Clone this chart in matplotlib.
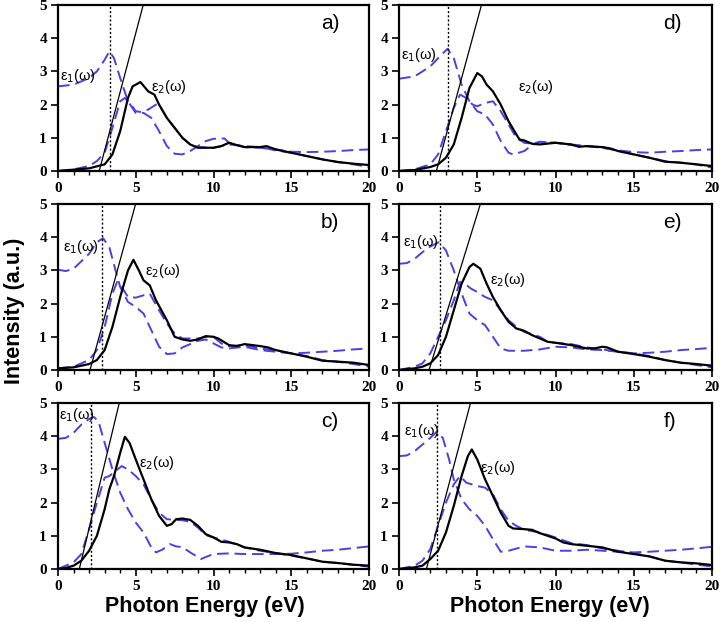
import matplotlib.pyplot as plt
from matplotlib.ticker import MultipleLocator

# colours
BLUE = '#4b3fe6'

panel_names = ['a)', 'b)', 'c)', 'd)', 'e)', 'f)']

# --- panel a ---
a_eps2_x = [0, 2, 3, 3.5, 4, 4.5, 4.8, 5, 5.3, 5.8, 6.2, 6.5, 7, 7.5, 8, 8.5, 9, 10, 10.5, 11, 11.5, 12, 13, 13.4, 14, 15, 16, 17, 18, 19, 20]
a_eps2_y = [0, 0.08, 0.2, 0.5, 1.2, 2.2, 2.55, 2.6, 2.68, 2.4, 2.3, 2.0, 1.6, 1.3, 1.0, 0.8, 0.7, 0.7, 0.75, 0.85, 0.78, 0.72, 0.72, 0.75, 0.65, 0.55, 0.45, 0.35, 0.27, 0.22, 0.18]
a_eps1_x = [0, 1, 2, 2.5, 3, 3.3, 3.6, 4, 4.5, 5, 5.5, 6, 6.5, 7, 7.5, 8, 8.5, 9, 9.5, 10, 10.7, 11, 12, 13, 14, 15, 16, 17, 18, 19, 20]
a_eps1_y = [2.55, 2.6, 2.8, 3.0, 3.35, 3.6, 3.4, 2.8, 2.1, 1.75, 1.75, 1.6, 1.2, 0.75, 0.52, 0.5, 0.6, 0.75, 0.9, 0.97, 0.98, 0.85, 0.72, 0.7, 0.65, 0.58, 0.57, 0.58, 0.6, 0.63, 0.65]
a_alt_x = [0, 1, 2, 2.5, 3, 3.5, 4, 4.3, 4.7, 5, 5.3, 5.8, 6.3, 6.5, 7, 7.5, 8, 8.5, 9, 10, 10.5, 11, 12, 13, 14, 15, 16, 17, 18, 19, 20]
a_alt_y = [0, 0.05, 0.15, 0.3, 0.55, 1.3, 2.1, 2.2, 2.0, 1.8, 1.78, 1.85, 2.0, 2.0, 1.6, 1.3, 1.0, 0.8, 0.72, 0.7, 0.75, 0.8, 0.75, 0.72, 0.62, 0.55, 0.45, 0.35, 0.27, 0.2, 0.12]

# --- panel b ---
b_eps2_x = [0, 1, 2, 2.5, 3, 3.5, 4, 4.5, 4.85, 5.2, 5.5, 5.9, 6.3, 7, 7.5, 8, 8.5, 9, 9.5, 10, 10.3, 11, 11.5, 12, 13, 13.5, 14, 15, 16, 17, 18, 19, 20]
b_eps2_y = [0.05, 0.08, 0.18, 0.3, 0.6, 1.3, 2.2, 3.0, 3.32, 3.0, 2.7, 2.55, 2.1, 1.5, 1.0, 0.92, 0.88, 0.92, 1.02, 1.0, 0.95, 0.75, 0.72, 0.78, 0.72, 0.68, 0.6, 0.5, 0.4, 0.28, 0.25, 0.22, 0.15]
b_eps1_x = [0, 0.5, 1, 2, 2.5, 2.9, 3.3, 3.7, 4, 4.5, 5, 5.5, 6, 6.5, 7, 7.5, 8, 9, 9.5, 10, 10.5, 11, 12, 13, 14, 15, 16, 17, 18, 19, 20]
b_eps1_y = [3.02, 2.98, 3.05, 3.5, 3.85, 3.97, 3.7, 3.0, 2.5, 2.05, 1.9, 1.7, 1.2, 0.7, 0.48, 0.5, 0.68, 0.88, 0.92, 0.8, 0.68, 0.65, 0.7, 0.6, 0.55, 0.5, 0.52, 0.55, 0.58, 0.62, 0.65]
b_alt_x = [0, 1, 2, 2.5, 3, 3.5, 3.8, 4.1, 4.5, 5, 5.5, 5.9, 6.5, 7, 7.5, 8, 9, 9.5, 10, 10.5, 11, 12, 13, 14, 15, 16, 17, 18, 19, 20]
b_alt_y = [0.05, 0.1, 0.3, 0.6, 1.3, 2.3, 2.65, 2.5, 2.2, 2.18, 2.25, 2.3, 1.8, 1.4, 1.1, 0.95, 0.95, 1.0, 1.0, 0.8, 0.72, 0.75, 0.65, 0.58, 0.5, 0.42, 0.3, 0.25, 0.18, 0.1]

# --- panel c ---
c_eps2_x = [0, 0.5, 1, 1.5, 2, 2.5, 3, 3.3, 3.6, 4, 4.3, 4.6, 5, 5.5, 6, 6.5, 7, 7.3, 7.6, 8, 8.5, 9, 9.5, 10, 10.5, 11, 11.5, 12, 13, 14, 15, 16, 17, 18, 19, 20]
c_eps2_y = [0, 0.03, 0.1, 0.25, 0.55, 1.0, 1.8, 2.4, 2.8, 3.5, 3.98, 3.8, 3.3, 2.7, 2.1, 1.6, 1.3, 1.35, 1.5, 1.52, 1.48, 1.3, 1.05, 0.95, 0.82, 0.8, 0.75, 0.65, 0.58, 0.48, 0.42, 0.32, 0.22, 0.18, 0.13, 0.1]
c_eps1_x = [0, 0.5, 1, 1.5, 2, 2.3, 2.6, 3, 3.5, 4, 4.5, 5, 5.5, 6, 6.3, 6.7, 7.2, 7.6, 8, 8.5, 9.2, 9.6, 10, 11, 12, 13, 14, 15, 16, 17, 18, 19, 20]
c_eps1_y = [3.92, 3.95, 4.1, 4.35, 4.52, 4.58, 4.45, 3.8, 3.0, 2.3, 1.8, 1.4, 1.1, 0.65, 0.5, 0.58, 0.75, 0.68, 0.66, 0.5, 0.3, 0.38, 0.45, 0.47, 0.45, 0.45, 0.45, 0.46, 0.5, 0.55, 0.58, 0.63, 0.68]
c_alt_x = [0, 1, 1.5, 2, 2.5, 3, 3.3, 3.7, 4.1, 4.5, 5, 5.5, 6, 6.5, 7, 7.5, 8, 8.5, 9, 9.5, 10, 11, 12, 13, 14, 15, 16, 17, 18, 19, 20]
c_alt_y = [0, 0.2, 0.45, 1.2, 2.0, 2.75, 2.8, 2.95, 3.1, 3.0, 2.8, 2.55, 2.1, 1.7, 1.5, 1.48, 1.47, 1.42, 1.25, 1.02, 0.95, 0.82, 0.65, 0.55, 0.48, 0.4, 0.32, 0.22, 0.18, 0.12, 0.07]

# --- panel d ---
d_eps2_x = [0, 1, 2, 2.5, 3, 3.5, 4, 4.5, 5, 5.3, 5.6, 6, 6.5, 7, 7.5, 7.7, 8, 8.5, 9, 10, 11, 11.5, 12, 13, 13.5, 14, 15, 16, 17, 18, 19, 20]
d_eps2_y = [0, 0.03, 0.12, 0.2, 0.4, 0.8, 1.6, 2.5, 2.95, 2.85, 2.6, 2.4, 2.0, 1.5, 1.1, 0.95, 0.92, 0.82, 0.8, 0.85, 0.8, 0.73, 0.75, 0.72, 0.68, 0.6, 0.5, 0.4, 0.28, 0.25, 0.2, 0.15]
d_eps1_x = [0, 1, 2, 2.5, 3.1, 3.5, 4, 4.5, 5, 5.5, 6, 6.5, 7, 7.3, 8, 8.5, 9, 10, 11, 12, 13, 14, 15, 16, 17, 18, 19, 20]
d_eps1_y = [2.78, 2.85, 3.15, 3.4, 3.68, 3.4, 2.6, 2.1, 1.8, 1.7, 1.4, 0.9, 0.55, 0.5, 0.6, 0.78, 0.88, 0.85, 0.78, 0.75, 0.7, 0.62, 0.57, 0.55, 0.58, 0.6, 0.63, 0.65]
d_alt_x = [0, 1, 2, 2.5, 3, 3.5, 3.9, 4.3, 4.7, 5, 5.5, 6, 6.5, 7, 7.5, 8, 8.5, 9, 10, 11, 12, 13, 14, 15, 16, 17, 18, 19, 20]
d_alt_y = [0, 0.05, 0.2, 0.5, 1.2, 1.9, 2.3, 2.2, 2.0, 1.95, 2.05, 2.1, 1.8, 1.4, 1.0, 0.85, 0.82, 0.88, 0.85, 0.8, 0.75, 0.7, 0.62, 0.5, 0.4, 0.3, 0.25, 0.2, 0.1]

# --- panel e ---
e_eps2_x = [0, 1, 1.5, 2, 2.5, 3, 3.5, 4, 4.5, 4.75, 5.2, 5.6, 6, 6.5, 7, 7.5, 8, 8.5, 9, 9.5, 10, 11, 12, 12.5, 13, 13.3, 14, 15, 16, 17, 18, 19, 20]
e_eps2_y = [0, 0.05, 0.1, 0.2, 0.45, 1.0, 1.8, 2.6, 3.1, 3.2, 3.05, 2.6, 2.2, 1.8, 1.45, 1.25, 1.18, 1.05, 0.95, 0.85, 0.82, 0.75, 0.65, 0.65, 0.7, 0.68, 0.55, 0.48, 0.4, 0.3, 0.22, 0.18, 0.13]
e_eps1_x = [0, 0.5, 1, 1.5, 2, 2.55, 3, 3.5, 4, 4.5, 5, 5.5, 6, 6.5, 7, 8, 9, 10, 11, 12, 13, 14, 15, 16, 17, 18, 19, 20]
e_eps1_y = [3.2, 3.22, 3.35, 3.55, 3.72, 3.85, 3.6, 3.0, 2.3, 1.7, 1.5, 1.35, 1.0, 0.65, 0.58, 0.58, 0.62, 0.7, 0.68, 0.62, 0.6, 0.55, 0.5, 0.52, 0.55, 0.6, 0.63, 0.67]
e_alt_x = [0, 1, 1.5, 2, 2.5, 3, 3.5, 3.9, 4.2, 4.6, 5, 5.5, 6, 6.5, 7, 7.5, 8, 9, 9.5, 10, 11, 12, 13, 14, 15, 16, 17, 18, 19, 20]
e_alt_y = [0, 0.1, 0.2, 0.5, 1.0, 1.5, 2.1, 2.65, 2.6, 2.45, 2.35, 2.2, 2.1, 1.8, 1.5, 1.3, 1.15, 1.0, 0.85, 0.82, 0.78, 0.68, 0.62, 0.55, 0.5, 0.42, 0.3, 0.22, 0.15, 0.08]

# --- panel f ---
f_eps2_x = [0, 1, 1.5, 2, 2.5, 3, 3.5, 4, 4.4, 4.65, 5, 5.5, 6, 6.5, 7, 7.3, 8, 8.5, 9, 9.5, 10, 10.5, 11, 12, 13, 14, 15, 16, 17, 18, 19, 20]
f_eps2_y = [0, 0.05, 0.1, 0.3, 0.55, 1.1, 1.9, 2.8, 3.4, 3.6, 3.3, 2.7, 2.2, 1.7, 1.3, 1.22, 1.2, 1.18, 1.08, 1.0, 0.92, 0.8, 0.75, 0.7, 0.65, 0.52, 0.45, 0.38, 0.25, 0.2, 0.17, 0.12]
f_eps1_x = [0, 0.5, 1, 1.5, 2, 2.4, 2.8, 3.2, 3.5, 4, 4.5, 5, 5.5, 6, 6.5, 7, 8, 9, 10, 11, 12, 13, 14, 15, 16, 17, 18, 19, 20]
f_eps1_y = [3.4, 3.42, 3.55, 3.75, 3.95, 4.13, 3.95, 3.3, 2.7, 2.1, 1.8, 1.6, 1.3, 0.9, 0.52, 0.55, 0.68, 0.65, 0.55, 0.55, 0.58, 0.55, 0.52, 0.5, 0.52, 0.55, 0.58, 0.62, 0.67]
f_alt_x = [0, 1, 1.5, 2, 2.5, 3, 3.5, 3.9, 4.3, 5, 5.5, 6, 6.5, 7, 7.5, 8, 9, 10, 11, 12, 13, 14, 15, 16, 17, 18, 19, 20]
f_alt_y = [0, 0.1, 0.25, 0.6, 1.3, 2.0, 2.55, 2.8, 2.6, 2.5, 2.45, 2.25, 1.8, 1.45, 1.3, 1.18, 1.1, 0.95, 0.78, 0.72, 0.62, 0.55, 0.48, 0.38, 0.25, 0.2, 0.13, 0.08]

# tangent lines: (E at I=0, E at I=5) and dotted band-gap markers
tangent_start = [2.65, 2.06, 1.37, 2.39, 1.92, 1.75]
tangent_end = [5.48, 4.99, 3.94, 5.27, 5.2, 4.57]
gap_marker = [3.34, 2.83, 2.1, 3.14, 2.6, 2.45]

# label positions (x, y) in data units
eps1_label_pos = [(0.1, 2.85), (0.35, 3.7), (0.08, 4.65), (0.15, 3.48), (0.25, 3.87), (0.3, 4.15)]
eps2_label_pos = [(6.0, 2.53), (5.6, 2.97), (5.2, 3.2), (7.6, 2.53), (5.8, 2.7), (5.2, 3.04)]

eps2_x = [a_eps2_x, b_eps2_x, c_eps2_x, d_eps2_x, e_eps2_x, f_eps2_x]
eps2_y = [a_eps2_y, b_eps2_y, c_eps2_y, d_eps2_y, e_eps2_y, f_eps2_y]
eps1_x = [a_eps1_x, b_eps1_x, c_eps1_x, d_eps1_x, e_eps1_x, f_eps1_x]
eps1_y = [a_eps1_y, b_eps1_y, c_eps1_y, d_eps1_y, e_eps1_y, f_eps1_y]
alt_x = [a_alt_x, b_alt_x, c_alt_x, d_alt_x, e_alt_x, f_alt_x]
alt_y = [a_alt_y, b_alt_y, c_alt_y, d_alt_y, e_alt_y, f_alt_y]

fig = plt.figure(figsize=(7.2, 6.22), dpi=100)

lefts = [58 / 720, 399 / 720]
widths = [311 / 720, 313 / 720]
bottoms = [1 - 171 / 622, 1 - 370 / 622, 1 - 569 / 622]
height = 166 / 622

axes = []
for i in range(6):
    col = i // 3
    row = i % 3
    ax = fig.add_axes([lefts[col], bottoms[row], widths[col], height])
    axes.append(ax)

    ax.plot(alt_x[i], alt_y[i], color=BLUE, lw=1.4, dashes=(6, 3))
    ax.plot(eps1_x[i], eps1_y[i], color=BLUE, lw=1.4, dashes=(6, 3))
    ax.plot(eps2_x[i], eps2_y[i], color='black', lw=1.6)
    ax.plot([tangent_start[i], tangent_end[i]], [0, 5], color='black', lw=0.9)
    ax.axvline(gap_marker[i], color='black', lw=1.0, ls=(0, (1.5, 1.5)))

    ax.text(eps1_label_pos[i][0], eps1_label_pos[i][1], r'ε$_1$(ω)', fontsize=10.5,
            family='Liberation Sans', va='center', ha='left')
    ax.text(eps2_label_pos[i][0], eps2_label_pos[i][1], r'ε$_2$(ω)', fontsize=10.5,
            family='Liberation Sans', va='center', ha='left')
    ax.text(16.9, 4.45, panel_names[i], fontsize=15, family='Liberation Sans',
            va='center', ha='left')

    ax.set_xlim(0, 20)
    ax.set_ylim(0, 5)
    ax.xaxis.set_major_locator(MultipleLocator(5))
    ax.xaxis.set_minor_locator(MultipleLocator(1))
    ax.yaxis.set_major_locator(MultipleLocator(1))
    ax.tick_params(which='major', direction='out', length=5, width=1.2, pad=3)
    ax.tick_params(which='minor', direction='out', length=3, width=1.0)
    for lab in ax.get_xticklabels() + ax.get_yticklabels():
        lab.set_fontfamily('Liberation Serif')
        lab.set_fontweight('bold')
        lab.set_fontsize(11)
    for sp in ax.spines.values():
        sp.set_linewidth(1.6)

label_font = dict(family='Liberation Sans', weight='bold', fontsize=15.5)
fig.text(205 / 720, 0.008, 'Photon Energy (eV)', ha='center', va='bottom', **label_font)
fig.text(550 / 720, 0.008, 'Photon Energy (eV)', ha='center', va='bottom', **label_font)
fig.text(0.006, 0.5, 'Intensity (a.u.)', rotation=90, ha='left', va='center', **label_font)

fig.savefig('out.png', dpi=100)
